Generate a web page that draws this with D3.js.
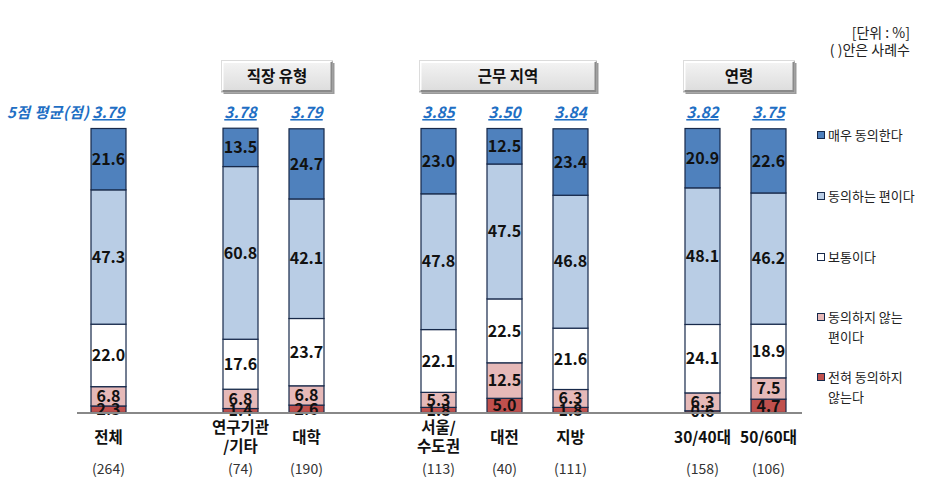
<!DOCTYPE html>
<html><head><meta charset="utf-8">
<script src="https://cdn.jsdelivr.net/npm/d3@7/dist/d3.min.js"></script>
<style>
html,body{margin:0;padding:0;background:#fff;}
svg{display:block;font-family:"Noto Sans CJK KR","Noto Sans",sans-serif;}
</style></head>
<body>
<svg id="chart" width="935" height="485"></svg>
<script>
// ---- data ----
const slots = ["전체","gap1","연구기관/기타","대학","gap2","서울/수도권","대전","지방","gap3","30/40대","50/60대"];
const categories = ["전체","연구기관/기타","대학","서울/수도권","대전","지방","30/40대","50/60대"];
const catLines = [["전체"],["연구기관","/기타"],["대학"],["서울/","수도권"],["대전"],["지방"],["30/40대"],["50/60대"]];
const counts = ["(264)","(74)","(190)","(113)","(40)","(111)","(158)","(106)"];
const means = ["3.79","3.78","3.79","3.85","3.50","3.84","3.82","3.75"];
const seriesNames = ["전혀 동의하지 않는다","동의하지 않는 편이다","보통이다","동의하는 편이다","매우 동의한다"];
const legendLines = [["전혀 동의하지","않는다"],["동의하지 않는","편이다"],["보통이다"],["동의하는 편이다"],["매우 동의한다"]];
const s1 = [2.3, 1.4, 2.6, 1.8, 5.0, 1.8, 0.6, 4.7];     // 전혀 동의하지 않는다
const s2 = [6.8, 6.8, 6.8, 5.3, 12.5, 6.3, 6.3, 7.5];    // 동의하지 않는 편이다
const s3 = [22.0, 17.6, 23.7, 22.1, 22.5, 21.6, 24.1, 18.9]; // 보통이다
const s4 = [47.3, 60.8, 42.1, 47.8, 47.5, 46.8, 48.1, 46.2]; // 동의하는 편이다
const s5 = [21.6, 13.5, 24.7, 23.0, 12.5, 23.4, 20.9, 22.6]; // 매우 동의한다
const groups = [{name:"직장 유형", from:"연구기관/기타", to:"대학"},
                {name:"근무 지역", from:"서울/수도권", to:"지방"},
                {name:"연령", from:"30/40대", to:"50/60대"}];
const colors = ["#c0504d","#e6b9b8","#ffffff","#b9cde5","#4f81bd"];

// ---- build ----
const svg = d3.select("#chart");
const allSeries = [s1,s2,s3,s4,s5];
const rows = categories.map((c,i)=>{
  const r = {cat:c};
  seriesNames.forEach((s,j)=> r[s]=allSeries[j][i]);
  return r;
});
const stack = d3.stack().keys(seriesNames)(rows);

const x = d3.scaleBand().domain(slots).range([75.5, 801.5]).paddingInner(0.4545).paddingOuter(0.2273);
const y = d3.scaleLinear().domain([0,100]).range([412.5, 128.5]);
const cx = c => x(c) + x.bandwidth()/2;

const defs = svg.append("defs");
const grad = defs.append("linearGradient").attr("id","boxg").attr("x1",0).attr("y1",0).attr("x2",0).attr("y2",1);
grad.append("stop").attr("offset","0%").attr("stop-color","#f4f4f4");
grad.append("stop").attr("offset","100%").attr("stop-color","#dcdcdc");

// bars
const layer = svg.append("g").selectAll("g").data(stack).join("g").attr("fill",(d,i)=>colors[i]);
layer.selectAll("rect").data(d=>d.map(v=>({v, cat:v.data.cat}))).join("rect")
  .attr("x", d=>x(d.cat)+0.5)
  .attr("width", x.bandwidth()-1)
  .attr("y", d=>y(d.v[1]))
  .attr("height", d=>Math.max(0, y(d.v[0])-y(d.v[1])))
  .attr("stroke","#17294a").attr("stroke-width",1.2);

// value labels
stack.forEach((ser)=>{
  svg.append("g").selectAll("text").data(ser).join("text")
    .attr("x", d=>cx(d.data.cat))
    .attr("y", d=>(y(d[0])+y(d[1]))/2)
    .attr("dy","0.36em")
    .attr("text-anchor","middle")
    .attr("font-size","16px").attr("font-weight","bold").attr("fill","#111")
    .text(d=>(d[1]-d[0]).toFixed(1));
});

// baseline
svg.append("line").attr("x1",77).attr("x2",802).attr("y1",y(0)+0.5).attr("y2",y(0)+0.5)
  .attr("stroke","#888").attr("stroke-width",2.2);

// category labels
categories.forEach((c,i)=>{
  const lines = catLines[i];
  const t = svg.append("text").attr("x",cx(c)).attr("text-anchor","middle")
    .attr("font-size","15.5px").attr("font-weight","bold").attr("fill","#111");
  if(lines.length===1){
    t.append("tspan").attr("x",cx(c)).attr("y",443).text(lines[0]);
  } else {
    t.append("tspan").attr("x",cx(c)).attr("y",433).text(lines[0]);
    t.append("tspan").attr("x",cx(c)).attr("y",452).text(lines[1]);
  }
  svg.append("text").attr("x",cx(c)).attr("y",474).attr("text-anchor","middle")
    .attr("font-size","14px").attr("fill","#333").text(counts[i]);
  svg.append("text").attr("x",cx(c)).attr("y",118).attr("text-anchor","middle")
    .attr("font-size","15.5px").attr("font-weight","bold").attr("font-style","italic")
    .attr("fill","#1f6fc4").attr("text-decoration","underline").text(means[i]);
});
svg.append("text").attr("x",7).attr("y",118)
  .attr("font-size","15px").attr("font-weight","bold").attr("font-style","italic")
  .attr("fill","#1f6fc4").attr("textLength",82).text("5점 평균(점)");

// group header boxes
groups.forEach(g=>{
  const x0 = x(g.from) - 1, x1 = x(g.to) + x.bandwidth() + 8;
  const bx = x0, bw = x1 - x0, by = 61, bh = 31;
  const gg = svg.append("g");
  gg.append("rect").attr("x",bx+2).attr("y",by+2).attr("width",bw).attr("height",bh).attr("fill","#9a9a9a");
  gg.append("rect").attr("x",bx).attr("y",by).attr("width",bw).attr("height",bh).attr("fill","url(#boxg)")
    .attr("stroke","#b8b8b8").attr("stroke-width",1);
  gg.append("path").attr("d",`M${bx+1},${by+bh-1} L${bx+1},${by+1} L${bx+bw-1},${by+1}`)
    .attr("fill","none").attr("stroke","#ffffff").attr("stroke-width",2);
  gg.append("path").attr("d",`M${bx+1},${by+bh-1} L${bx+bw-1},${by+bh-1} L${bx+bw-1},${by+1}`)
    .attr("fill","none").attr("stroke","#8a8a8a").attr("stroke-width",2);
  gg.append("text").attr("x",bx+bw/2).attr("y",by+bh/2).attr("dy","0.36em").attr("text-anchor","middle")
    .attr("font-size","15.5px").attr("font-weight","bold").attr("fill","#111").text(g.name);
});

// unit notes
svg.append("text").attr("x",910).attr("y",38).attr("text-anchor","end").attr("font-size","14px").attr("fill","#222").text("[단위 : %]");
svg.append("text").attr("x",910).attr("y",55).attr("text-anchor","end").attr("font-size","14px").attr("fill","#222").text("(  )안은 사례수");

// legend (top to bottom: reverse order)
const legY = [377, 317, 257, 196, 135];
seriesNames.forEach((s,i)=>{
  const g = svg.append("g");
  g.append("rect").attr("x",817.5).attr("y",legY[i]-3.5).attr("width",7).attr("height",7)
    .attr("fill",colors[i]).attr("stroke","#17294a").attr("stroke-width",1);
  legendLines[i].forEach((l,k)=>{
    g.append("text").attr("x",828).attr("y",legY[i]+k*20.5).attr("dy","0.36em")
      .attr("font-size","13px").attr("fill","#222").text(l);
  });
});
</script>
</body></html>
